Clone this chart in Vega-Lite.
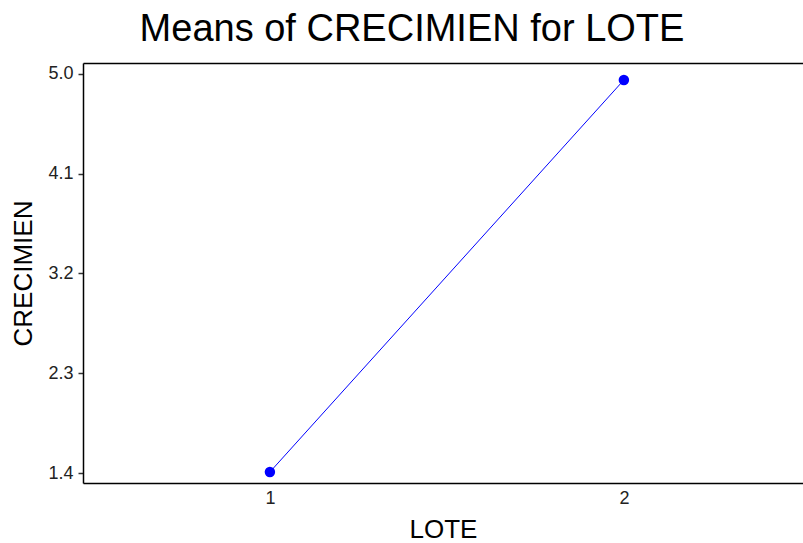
{
  "$schema": "https://vega.github.io/schema/vega-lite/v6.json",
  "autosize": "none",
  "width": 720,
  "height": 420,
  "padding": {"left": 83, "top": 63, "right": 0, "bottom": 60},
  "background": "white",
  "title": {
    "text": "Means of CRECIMIEN for LOTE",
    "font": "Liberation Sans",
    "fontSize": 38,
    "fontWeight": "normal",
    "color": "black",
    "anchor": "middle",
    "frame": "group",
    "dx": -31,
    "offset": 14
  },
  "data": {
    "values": [
      {"LOTE": 1, "CRECIMIEN": 1.409},
      {"LOTE": 2, "CRECIMIEN": 4.946}
    ]
  },
  "encoding": {
    "x": {"field": "LOTE", "type": "quantitative", "scale": {"domain": [0.472, 2.506], "nice": false, "zero": false}},
    "y": {
      "field": "CRECIMIEN", "type": "quantitative",
      "scale": {"domain": [1.31, 5.099], "nice": false, "zero": false},
      "axis": {
        "values": [1.4, 2.3, 3.2, 4.1, 5.0],
        "format": ".1f",
        "grid": false,
        "domainColor": "black",
        "domainWidth": 1.5,
        "tickColor": "#333333",
        "tickSize": 5,
        "tickWidth": 1.5,
        "labelFont": "Liberation Sans",
        "labelFontSize": 18,
        "labelColor": "#222222",
        "labelPadding": 5,
        "title": "CRECIMIEN",
        "titleFont": "Liberation Sans",
        "titleFontSize": 26,
        "titleFontWeight": "normal",
        "titleColor": "black",
        "titlePadding": 11
      }
    }
  },
  "layer": [
    {
      "mark": {"type": "line", "color": "#0000ff", "strokeWidth": 1},
      "encoding": {
        "x": {"field": "LOTE", "type": "quantitative",
          "axis": {
            "orient": "bottom",
            "values": [1, 2],
            "format": "d",
            "grid": false,
            "ticks": false,
            "domainColor": "black",
            "domainWidth": 1.5,
            "labelFont": "Liberation Sans",
            "labelFontSize": 18,
            "labelColor": "#222222",
            "labelPadding": 6,
            "title": "LOTE",
            "titleFont": "Liberation Sans",
            "titleFontSize": 26,
            "titleFontWeight": "normal",
            "titleColor": "black",
            "titlePadding": 9
          }
        }
      }
    },
    {
      "mark": {"type": "point", "filled": true, "color": "#0000ff", "size": 110, "opacity": 1},
      "encoding": {
        "x": {"field": "LOTE", "type": "quantitative",
          "axis": {
            "orient": "top",
            "grid": false,
            "ticks": false,
            "labels": false,
            "title": null,
            "domainColor": "black",
            "domainWidth": 1.5
          }
        }
      }
    }
  ],
  "resolve": {"axis": {"x": "independent"}},
  "config": {"view": {"stroke": null}}
}
